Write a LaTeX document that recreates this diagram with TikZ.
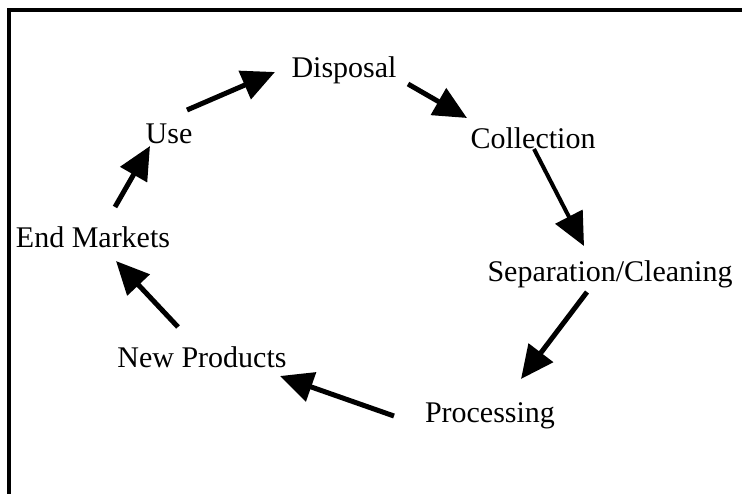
\documentclass[tikz,border=0pt]{standalone}
\usepackage{fontspec}
\setmainfont{Liberation Serif}
\usetikzlibrary{arrows.meta}
\begin{document}
\begin{tikzpicture}[x=1pt,y=-1pt,
  lbl/.style={anchor=base,inner sep=0pt,font=\fontsize{30}{36}\selectfont},
  flow/.style={line width=5pt,-{Triangle[length=33pt,width=30pt]}},
  frame/.style={line width=4pt}]
\useasboundingbox (0,0) rectangle (742,493);
\draw[frame] (9,495) -- (9,10) -- (744,10);
% labels
\node[lbl] (disposal) at (344,77) {Disposal};
\node[lbl] (collection) at (533,148) {Collection};
\node[lbl] (sep) at (610,281) {Separation/Cleaning};
\node[lbl] (proc) at (490,422) {Processing};
\node[lbl] (newp) at (202,367) {New Products};
\node[lbl] (endm) at (93,247) {End Markets};
\node[lbl] (use) at (169,143) {Use};
% connector ends
\coordinate (a1) at (187,110); \coordinate (b1) at (275,72);
\coordinate (a2) at (408,84);  \coordinate (b2) at (467,118);
\coordinate (a3) at (534,149); \coordinate (b3) at (584,246);
\coordinate (a4) at (587,292); \coordinate (b4) at (521,379);
\coordinate (a5) at (394,416); \coordinate (b5) at (280,376);
\coordinate (a6) at (178,327); \coordinate (b6) at (116,261);
\coordinate (a7) at (115,207); \coordinate (b7) at (150,146);
\draw[flow] (a1) -- (b1);
\draw[flow] (a2) -- (b2);
\draw[flow,line width=4pt] (a3) -- (b3);
\draw[flow] (a4) -- (b4);
\draw[flow] (a5) -- (b5);
\draw[flow] (a6) -- (b6);
\draw[flow] (a7) -- (b7);
\end{tikzpicture}
\end{document}
